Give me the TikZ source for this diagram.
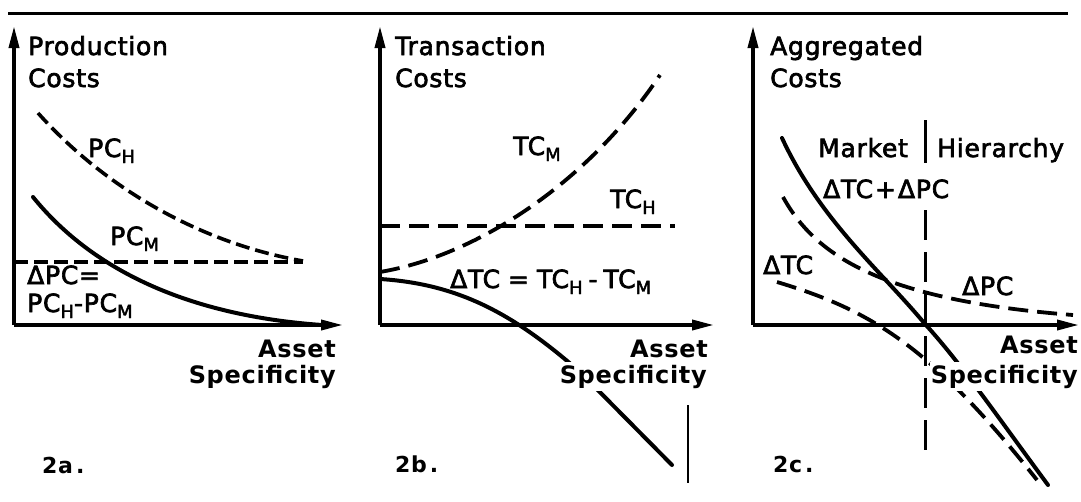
\documentclass[tikz,border=0pt]{standalone}
\usepackage{fontspec}
\setmainfont{DejaVu Sans}[LetterSpace=3]
\newfontfamily\lblfont{DejaVu Sans}[LetterSpace=3,FakeBold=2.6]
\usetikzlibrary{arrows.meta}
\newcommand\sbsc[1]{\raisebox{-6pt}{\fontsize{18}{18}\selectfont #1}}
\begin{document}
\begin{tikzpicture}[x=1pt,y=-1pt,
 ax/.style={line width=3.6pt,-{Triangle[length=22pt,width=10pt]}},
 solidc/.style={line width=4pt,line cap=round},
 dashc/.style={line width=3.6pt,dash pattern=on 14pt off 6pt},
 dashl/.style={line width=3.8pt,dash pattern=on 20pt off 9pt},
 lbl/.style={font=\lblfont\fontsize{25}{30}\selectfont,inner sep=0pt,anchor=base west},
 axl/.style={font=\bfseries\fontsize{24}{28}\selectfont,inner sep=0pt,anchor=base east},
 axm/.style={axl,fill=white,inner xsep=1pt,inner ysep=3pt},
 num/.style={font=\bfseries\fontsize{22}{26}\selectfont,inner sep=0pt,anchor=base west}]
\useasboundingbox (0,0) rectangle (1081,501);
\fill[white] (0,0) rectangle (1081,501);
% top rule
\coordinate (r1) at (8,13); \coordinate (r2) at (1068,13);
\draw[line width=3pt] (r1) -- (r2);

%%%%%%%% Panel a
\coordinate (a0) at (14,325); \coordinate (ay) at (14,26); \coordinate (ax) at (343,325);
\draw[dashc] (14,262) -- (303,262);
\draw[dashc] (38,113) .. controls (105,188) and (200,243) .. (303,261);
\draw[solidc] (33,197) .. controls (88,265) and (180,315) .. (322,325);
\draw[ax] (a0) -- (ay);
\draw[ax] (a0) -- (ax);
\node[lbl] (a1) at (28,55) {Production};
\node[lbl] (a2) at (28,87) {Costs};
\node[lbl] (a3) at (88,157) {PC\sbsc{H}};
\node[lbl] (a4) at (110,245) {PC\sbsc{M}};
\node[lbl] (a5) at (27,284) {ΔPC=};
\node[lbl] (a6) at (27,312) {PC\sbsc{H}-PC\sbsc{M}};
\node[axl] (a7) at (336,357) {Asset};
\node[axl] (a8) at (336,383) {Specificity};
\node[num] (a9) at (42,473) {2a\hspace{3pt}.};

%%%%%%%% Panel b
\coordinate (b0) at (380,325); \coordinate (by) at (380,26); \coordinate (bx) at (714,325);
\draw[dashl] (380,226) -- (675,226);
\draw[dashl] (380,272) .. controls (480,255) and (590,180) .. (660,75);
\draw[solidc] (380,279) .. controls (460,284) and (515,315) .. (580,372) -- (672,465);
\draw[ax] (b0) -- (by);
\draw[ax] (b0) -- (bx);
\coordinate (bl1) at (688,405); \coordinate (bl2) at (688,483);
\draw[line width=1.5pt] (bl1) -- (bl2);
\node[lbl] (b1) at (395,55) {Transaction};
\node[lbl] (b2) at (395,87) {Costs};
\node[lbl] (b3) at (513,155) {TC\sbsc{M}};
\node[lbl] (b4) at (610,208) {TC\sbsc{H}};
\node[lbl] (b5) at (450,288) {ΔTC\hspace{8pt}=\hspace{8pt}TC\sbsc{H}\hspace{6pt}-\hspace{6pt}TC\sbsc{M}};
\node[axl] (b6) at (708,357) {Asset};
\node[axm] (b7) at (708,383) {Specificity};
\node[num] (b8) at (395,472) {2b\hspace{3pt}.};

%%%%%%%% Panel c
\coordinate (c0) at (753,325); \coordinate (cy) at (753,26); \coordinate (cx) at (1079,325);
\draw[dashl] (783,197) .. controls (815,255) and (880,300) .. (1073,315);
\draw[dashl] (777,282) .. controls (870,310) and (930,345) .. (1037,480);
\draw[solidc] (782,138) .. controls (820,220) and (880,270) .. (925,324) .. controls (960,362) and (1000,420) .. (1048,485);
\draw[ax] (c0) -- (cy);
\draw[ax] (c0) -- (cx);
\node[lbl] (c1) at (770,55) {Aggregated};
\node[lbl] (c2) at (770,87) {Costs};
\node[lbl] (c3) at (818,157) {Market};
\coordinate (m1) at (925,120); \coordinate (m2) at (925,163);
\draw[line width=3pt] (m1) -- (m2);
\node[lbl] (c4) at (937,157) {Hierarchy};
\node[lbl] (c5) at (823,198) {ΔTC\hspace{2pt}+\hspace{2pt}ΔPC};
\node[lbl] (c6) at (763,274) {ΔTC};
\node[lbl] (c7) at (962,295) {ΔPC};
\node[axl] (c8) at (1078,353) {Asset};
\node[axm] (c9) at (1079,383) {Specificity};
\coordinate (v1) at (925,210); \coordinate (v2) at (925,460);
\draw[line width=3pt,dash pattern=on 30pt off 12pt] (v1) -- (v2);
\node[num] (c10) at (773,472) {2c\hspace{3pt}.};
\end{tikzpicture}
\end{document}
